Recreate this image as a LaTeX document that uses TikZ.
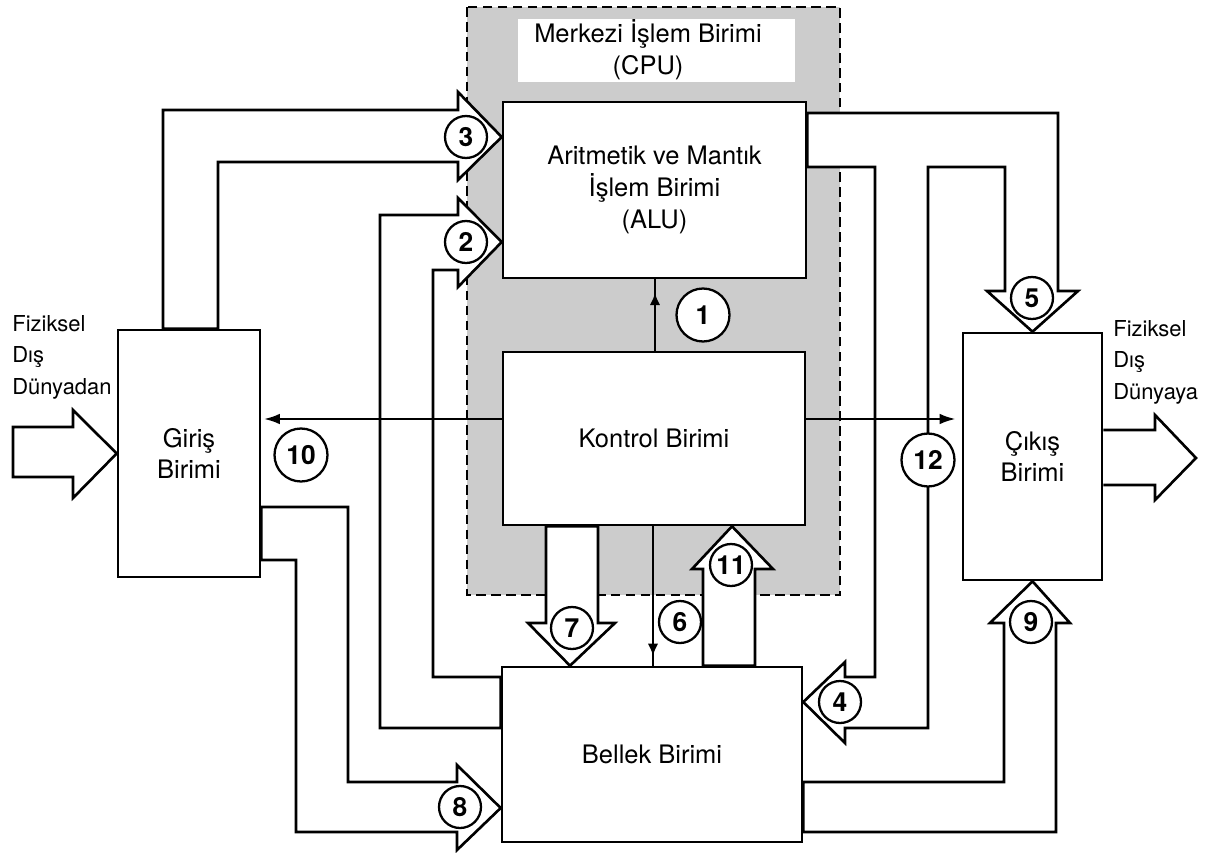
\documentclass[tikz,border=0pt]{standalone}
\usepackage{fontspec}
\setmainfont{TeX Gyre Heros}
\usetikzlibrary{arrows.meta,decorations.markings}
\begin{document}
\begin{tikzpicture}[x=0.02cm,y=-0.02cm,
  unit/.style={draw,fill=white,line width=1.5pt,align=center,font=\fontsize{14.5}{18}\selectfont},
  bus/.style={draw,fill=white,line width=1.5pt},
  num/.style={circle,draw,fill=white,line width=1.3pt,minimum size=0.84cm,inner sep=0pt,font=\fontsize{15}{15}\selectfont\bfseries},
  bignum/.style={num,minimum size=1.06cm},
  signal/.style={line width=1.3pt},
  tipat/.style={postaction={decorate},decoration={markings,mark=at position #1 with {\arrow{Latex[length=7pt,width=6pt]}}}},
  outside/.style={anchor=north west,inner sep=0pt,align=left,font=\fontsize{12.5}{17.9}\selectfont}]
\useasboundingbox (0,0) rectangle (1210,852);
%
\draw[fill=black!20,line width=1.1pt,dash pattern=on 5.5pt off 3pt] (467,7) rectangle (840,595);
\fill[white] (518,19) rectangle (795,82);
\node[font=\fontsize{14.5}{18}\selectfont,align=center] (cpu) at (648,50) {Merkezi İşlem Birimi\\(CPU)};
%
\node[unit,minimum width=6.06cm,minimum height=3.52cm] (alu) at (654.5,190) {Aritmetik ve Mantık\\İşlem Birimi\\(ALU)};
\node[unit,minimum width=6.04cm,minimum height=3.46cm] (ctl) at (654,438.5) {Kontrol Birimi};
\node[unit,minimum width=2.84cm,minimum height=4.94cm] (in) at (189,453.5) {Giriş\\Birimi};
\node[unit,minimum width=2.78cm,minimum height=4.94cm] (out) at (1032.5,456.5) {Çıkış\\Birimi};
\node[unit,minimum width=6cm,minimum height=3.5cm] (mem) at (652,754.5) {Bellek Birimi};
%
\node[outside] (srcworld) at (12,315) {Fiziksel\\Dış\\Dünyadan};
\node[outside] (dstworld) at (1113,320) {Fiziksel\\Dış\\Dünyaya};
\coordinate (worldout) at (1196,458);
\draw[bus] (13,427) -- (73,427) -- (73,410) -- (in.west) -- (73,498) -- (73,477) -- (13,477) -- cycle;
\draw[bus] (out.east |- 0,430) -- (1155,430) -- (1155,415) -- (worldout) -- (1155,500) -- (1155,485) -- (out.east |- 0,485);
%
% 3
\draw[bus] (in.north -| 163,0) |- (458,110) -- (458,92) -- (alu.west |- 0,137) -- (458,180) -- (458,162) -| (in.north -| 218,0) -- cycle;
% 2
\draw[bus] (mem.west |- 0,728) -| (380,215) -- (458,215) -- (458,198) -- (alu.west |- 0,242) -- (458,287) -- (458,270) -| (433,677) -- (mem.west |- 0,677) -- cycle;
% 8
\draw[bus] (in.east |- 0,507) -| (348,782) -- (457,782) -- (457,765) -- (mem.west |- 0,808) -- (457,850) -- (457,832) -| (296,560) -- (in.east |- 0,560) -- cycle;
% 7
\draw[bus] (ctl.south -| 546,0) -- (546,623) -- (528,623) -- (mem.north -| 570,0) -- (615,623) -- (598,623) -- (ctl.south -| 598,0) -- cycle;
% 11
\draw[bus] (mem.north -| 703,0) -- (703,569) -- (692,569) -- (ctl.south -| 732,0) -- (773,569) -- (755,569) -- (mem.north -| 755,0) -- cycle;
% 9
\draw[bus] (mem.east |- 0,782) -| (1004,623) -- (990,623) -- (out.south) -- (1070,623) -- (1056,623) |- (mem.east |- 0,832) -- cycle;
% 5 and 4
\draw[bus] (alu.east |- 0,113) -| (1058,291) -- (1078,291) -- (out.north) -- (987,291) -- (1005,291) |- (928,167) -- (928,728) -- (845,728) -- (845,743) -- (mem.east |- 0,702) -- (845,662) -- (845,677) -| (875,167) -- (alu.east |- 0,167) -- cycle;
%
\draw[signal,tipat=0.81] (ctl.north -| 655,0) -- (alu.south -| 655,0);
\draw[signal,tipat=0.93] (ctl.south -| 653,0) -- (mem.north -| 653,0);
\draw[signal,-{Latex[length=9pt,width=6pt]},shorten >=1.5pt] (ctl.west |- 0,419) -- (in.east |- 0,419);
\draw[signal,-{Latex[length=9pt,width=6pt]},shorten >=3.5pt] (ctl.east |- 0,419) -- (out.west |- 0,419);
%
\node[bignum] (n1) at (703,315) {1};
\node[num] (n2) at (466,242) {2};
\node[num] (n3) at (466,137) {3};
\node[num] (n4) at (840,702) {4};
\node[num] (n5) at (1032,298) {5};
\node[num] (n6) at (680,622) {6};
\node[num] (n7) at (572,628) {7};
\node[num] (n8) at (460,807) {8};
\node[num] (n9) at (1031,622) {9};
\node[bignum] (n10) at (301,455) {10};
\node[num] (n11) at (731,565) {11};
\node[bignum] (n12) at (928,460) {12};
\end{tikzpicture}
\end{document}
